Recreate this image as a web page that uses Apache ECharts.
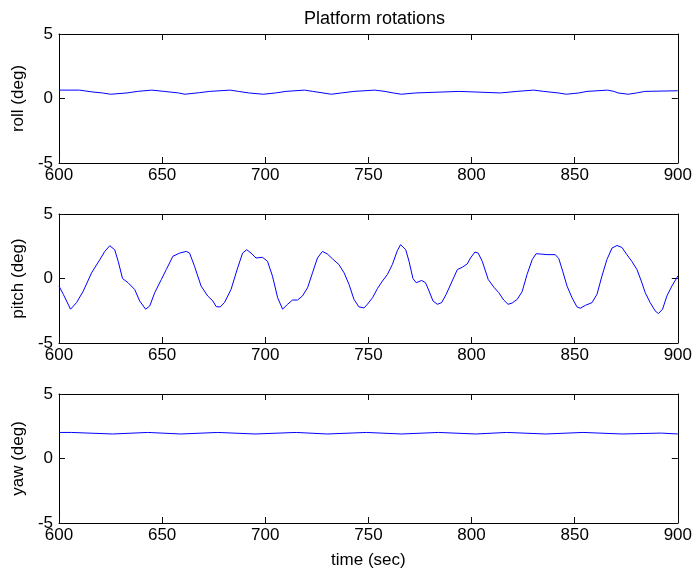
<!DOCTYPE html>
<html>
<head>
<meta charset="utf-8">
<script src="https://cdn.jsdelivr.net/npm/echarts@6/dist/echarts.min.js"></script>
<style>
  html, body { margin: 0; padding: 0; background: #fff; }
  #main { width: 695px; height: 573px; }
</style>
</head>
<body>
<div id="main"></div>
<script>
// x range and ticks
const timeMin = 600;
const timeMax = 900;
const timeStep = 50;
const degMin = -5;
const degMax = 5;
const degStep = 5;

// roll (deg), [time, value], value holds until next point
const rollData = [
  [600, 0.65], [610, 0.51], [616, 0.43], [621, 0.33], [625, 0.43], [633, 0.55],
  [638, 0.65], [645, 0.55], [651, 0.43], [658, 0.33], [661, 0.45], [668, 0.55],
  [673, 0.65], [683, 0.55], [687, 0.43], [692, 0.33], [699, 0.43], [705, 0.55],
  [710, 0.65], [719, 0.55], [723, 0.43], [728, 0.33], [732, 0.43], [737, 0.55],
  [743, 0.65], [753, 0.55], [758, 0.43], [762, 0.33], [766, 0.43], [773, 0.55],
  [794, 0.43], [814, 0.55], [822, 0.65], [830, 0.55], [835, 0.43], [842, 0.33],
  [846, 0.43], [852, 0.55], [856, 0.65], [866, 0.55], [869, 0.43], [871, 0.33],
  [876, 0.43], [880, 0.55], [884, 0.6], [900, 0.6]
];

// pitch (deg)
const pitchData = [
  [600, -0.59], [602.1, -1.23], [605.6, -2.38], [608.5, -1.87], [611.8, -0.97],
  [615.8, 0.44], [619.8, 1.46], [622.2, 2.1], [624.6, 2.54], [627, 2.23],
  [628.7, 1.33], [630.8, 0], [633.5, -0.33], [636.7, -0.85], [639.1, -1.74],
  [642, -2.38], [644, -2.13], [646.4, -1.1], [649.6, -0.08], [652, 0.69],
  [655.2, 1.72], [658.5, 1.97], [661.7, 2.1], [663.3, 1.97], [665.7, 0.95],
  [668.9, -0.59], [672.1, -1.36], [674.6, -1.74], [676.2, -2.18], [678.1, -2.21],
  [680.2, -1.87], [683.4, -0.85], [686.6, 0.82], [689, 1.97], [691, 2.23],
  [693.1, 1.97], [695.5, 1.59], [698.7, 1.64], [701.1, 1.33], [703.5, 0.18],
  [706, -1.49], [708.4, -2.38], [710.8, -2.0], [713.2, -1.67], [715.6, -1.67],
  [718, -1.36], [720.5, -0.72], [722.9, 0.44], [725.3, 1.59], [727.7, 2.1],
  [730.1, 1.9], [732.5, 1.54], [735.7, 1.08], [738.2, 0.44], [740.6, -0.46],
  [743, -1.62], [745.4, -2.2], [747.9, -2.28], [749.5, -2.0], [752, -1.49],
  [754.4, -0.77], [756.8, -0.2], [759.2, 0.31], [761.6, 1.08], [764, 2.15],
  [765.6, 2.62], [768.1, 2.23], [769.7, 1.33], [771.6, 0], [773.2, -0.33],
  [775.8, -0.15], [777.7, -0.33], [779.4, -0.97], [781.3, -1.74], [783.4, -2.0],
  [785.5, -1.87], [787.7, -1.23], [790.6, -0.2], [793.1, 0.69], [795.5, 0.87],
  [797.9, 1.13], [799.5, 1.59], [801.6, 2.05], [803.2, 1.97], [805.2, 1.33],
  [808.1, -0.08], [810.8, -0.67], [813.2, -1.1], [815.6, -1.67], [817.7, -2.0],
  [819.7, -1.9], [822.1, -1.62], [824.5, -1.03], [826.9, 0.31], [829.4, 1.46],
  [831.3, 1.92], [833.4, 1.9], [836.6, 1.85], [840.6, 1.85], [842.3, 1.54],
  [844.2, 0.56], [846.3, -0.59], [848.7, -1.49], [851.1, -2.2], [852.7, -2.31],
  [855.2, -2.08], [858.4, -1.87], [860.8, -1.23], [863.2, 0.18], [865.6, 1.46],
  [868.1, 2.36], [870.5, 2.56], [872.9, 2.41], [875.3, 1.85], [877.7, 1.33],
  [880.2, 0.69], [882.3, -0.2], [884.2, -1.1], [886.6, -1.87], [889, -2.51],
  [890.6, -2.72], [892.6, -2.38], [894.7, -1.36], [897.1, -0.59], [899.5, 0.05],
  [900, 0.2]
];

// yaw (deg), stepped
const yawData = [
  [600, 2.02], [606, 1.9], [626, 2.02], [643, 1.9], [659, 2.02], [677, 1.9],
  [695, 2.02], [715, 1.9], [730, 2.02], [749, 1.9], [766, 2.02], [784, 1.9],
  [802, 2.02], [817, 1.9], [836, 2.02], [854, 1.9], [873, 1.97], [892, 1.9],
  [900, 1.9]
];

const panelNames = ['roll (deg)', 'pitch (deg)', 'yaw (deg)'];
const panelTops = [34, 214, 394];

const chart = echarts.init(document.getElementById('main'));
const font = 'Liberation Sans, Arial, sans-serif';
const black = '#000';
const tickColor = '#0a0a0a';
const fs = 17;

// inside ticks, matlab style (new object per axis)
const tick = () => ({ show: true, inside: true, length: 6, lineStyle: { color: tickColor, width: 1 } });
const frameLine = () => ({ show: true, onZero: false, lineStyle: { color: black, width: 1 } });

const grid = [];
const xAxis = [];
const yAxis = [];
panelTops.forEach((top, i) => {
  grid.push({ left: 59, right: 15, top: top, height: 129 });
  // bottom x axis with labels
  xAxis.push({
    gridIndex: i, type: 'value', min: timeMin, max: timeMax, interval: timeStep,
    position: 'bottom',
    axisLine: frameLine(),
    axisTick: tick(),
    axisLabel: { color: black, fontSize: fs, fontFamily: font, margin: 4 },
    splitLine: { show: false },
    name: i === 2 ? 'time (sec)' : '',
    nameLocation: 'middle', nameGap: 29,
    nameTextStyle: { color: black, fontSize: fs, fontFamily: font }
  });
  // top x axis, ticks only
  xAxis.push({
    gridIndex: i, type: 'value', min: timeMin, max: timeMax, interval: timeStep,
    position: 'top',
    axisLine: frameLine(),
    axisTick: tick(),
    axisLabel: { show: false },
    splitLine: { show: false }
  });
  yAxis.push({
    gridIndex: i, type: 'value', min: degMin, max: degMax, interval: degStep,
    position: 'left',
    axisLine: frameLine(),
    axisTick: tick(),
    axisLabel: { color: black, fontSize: fs, fontFamily: font, margin: 6 },
    splitLine: { show: false },
    name: panelNames[i], nameLocation: 'middle', nameGap: 32,
    nameTextStyle: { color: black, fontSize: fs, fontFamily: font }
  });
  yAxis.push({
    gridIndex: i, type: 'value', min: degMin, max: degMax, interval: degStep,
    position: 'right',
    axisLine: frameLine(),
    axisTick: tick(),
    axisLabel: { show: false },
    splitLine: { show: false }
  });
});

const lineSeries = (data, i, step) => ({
  type: 'line', data: data, xAxisIndex: i * 2, yAxisIndex: i * 2,
  showSymbol: false, step: step,
  lineStyle: { color: '#0000ff', width: 1 }
});

chart.setOption({
  animation: false,
  title: {
    text: 'Platform rotations', left: 369.5, textAlign: 'center', top: 5,
    textStyle: { color: black, fontSize: 18, fontWeight: 'normal', fontFamily: font }
  },
  grid: grid,
  xAxis: xAxis,
  yAxis: yAxis,
  series: [
    lineSeries(rollData, 0, 'end'),
    lineSeries(pitchData, 1, false),
    lineSeries(yawData, 2, 'end')
  ]
});
</script>
</body>
</html>
